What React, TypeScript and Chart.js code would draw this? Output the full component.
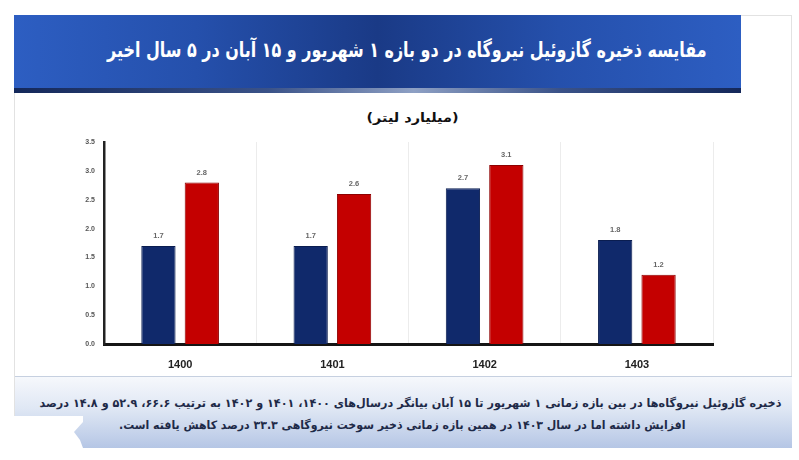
import React, { useEffect, useLayoutEffect, useRef, useState } from "react";
import { Chart, registerables } from "chart.js";

Chart.register(...registerables);

const categories = ["1400", "1401", "1402", "1403"];
const shahrivar = [1.7, 1.7, 2.7, 1.8];
const aban = [2.8, 2.6, 3.1, 1.2];
const yTicks = [0, 0.5, 1, 1.5, 2, 2.5, 3, 3.5];

const titleText =
  "مقایسه ذخیره گازوئیل نیروگاه در دو بازه ۱ شهریور و ۱۵ آبان در ۵ سال اخیر";
const unitText = "(میلیارد لیتر)";
const noteLine1 =
  "ذخیره گازوئیل نیروگاه‌ها در بین بازه زمانی ۱ شهریور تا ۱۵ آبان بیانگر درسال‌های ۱۴۰۰، ۱۴۰۱ و ۱۴۰۲ به ترتیب ۶۶.۶، ۵۲.۹ و ۱۴.۸ درصد";
const noteLine2 =
  "افزایش داشته اما در سال ۱۴۰۳ در همین بازه زمانی ذخیر سوخت نیروگاهی ۳۳.۳ درصد کاهش یافته است.";

const persianFont = '"DejaVu Sans", "Noto Sans", sans-serif';

const labelPlugin = {
  id: "barLabels",
  afterDatasetsDraw(chart: any) {
    const ctx = chart.ctx;
    ctx.save();
    ctx.font = "bold 7.5px 'Liberation Sans', sans-serif";
    ctx.fillStyle = "#666";
    ctx.textAlign = "center";
    ctx.textBaseline = "bottom";
    chart.data.datasets.forEach((ds: any, i: number) => {
      const meta = chart.getDatasetMeta(i);
      meta.data.forEach((bar: any, j: number) => {
        ctx.fillText(Number(ds.data[j]).toFixed(1), bar.x, bar.y - 6);
      });
    });
    ctx.restore();
  },
};

function FitText(props: {
  text: React.ReactNode;
  width: number;
  centerX: number;
  top: number;
  fontSize: number;
  color: string;
  lineHeight: number;
}) {
  const ref = useRef<HTMLSpanElement>(null);
  const [scale, setScale] = useState(1);
  useLayoutEffect(() => {
    if (ref.current) {
      const w = ref.current.offsetWidth;
      if (w > 0) setScale(props.width / w);
    }
  }, []);
  return (
    <div
      style={{
        position: "absolute",
        left: props.centerX - 500,
        top: props.top,
        width: 1000,
        textAlign: "center",
      }}
    >
      <span
        ref={ref}
        dir="rtl"
        style={{
          display: "inline-block",
          whiteSpace: "nowrap",
          fontFamily: persianFont,
          fontWeight: "bold",
          fontSize: props.fontSize,
          lineHeight: props.lineHeight + "px",
          color: props.color,
          transform: `scaleX(${scale})`,
          transformOrigin: "center",
        }}
      >
        {props.text}
      </span>
    </div>
  );
}

export default function App() {
  const ref = useRef<HTMLCanvasElement>(null);

  useEffect(() => {
    if (!ref.current) return;
    const chart = new Chart(ref.current, {
      type: "bar",
      data: {
        labels: categories,
        datasets: [
          {
            label: "۱ شهریور",
            data: shahrivar,
            backgroundColor: "#10296b",
            borderColor: "#0a1d50",
            borderWidth: 1,
            categoryPercentage: 0.57,
            barPercentage: 0.79,
          },
          {
            label: "۱۵ آبان",
            data: aban,
            backgroundColor: "#c40000",
            borderColor: "#8e0000",
            borderWidth: 1,
            categoryPercentage: 0.57,
            barPercentage: 0.79,
          },
        ],
      },
      options: {
        animation: false,
        responsive: false,
        maintainAspectRatio: false,
        layout: { padding: { left: 0, right: 86, top: 142, bottom: 0 } },
        plugins: {
          legend: { display: false },
          tooltip: { enabled: false },
          title: { display: false },
        },
        scales: {
          x: {
            grid: { display: true, color: "#ececec", lineWidth: 1, drawTicks: false },
            border: { display: true, color: "#151515", width: 3 },
            ticks: {
              color: "#222",
              padding: 14,
              font: { family: "'Liberation Sans', sans-serif", size: 11, weight: "bold" },
            },
            afterFit(scale: any) {
              scale.height = 116;
            },
          },
          y: {
            min: 0,
            max: 3.5,
            afterBuildTicks(scale: any) {
              scale.ticks = yTicks.map((v) => ({ value: v }));
            },
            grid: { display: false, drawTicks: false },
            border: { display: true, color: "#222", width: 2.5 },
            ticks: {
              color: "#555",
              padding: 9,
              font: { family: "'Liberation Sans', sans-serif", size: 7, weight: "bold" },
              callback: (v: any) => Number(v).toFixed(1),
            },
            afterFit(scale: any) {
              scale.width = 104;
            },
          },
        },
      },
      plugins: [labelPlugin],
    });
    return () => chart.destroy();
  }, []);

  return (
    <div
      style={{
        position: "absolute",
        left: 0,
        top: 0,
        width: 799,
        height: 460,
        background: "#fff",
        overflow: "hidden",
      }}
    >
      {/* panel border */}
      <div
        style={{
          position: "absolute",
          left: 14,
          top: 15,
          width: 778,
          height: 433,
          border: "1px solid #e2e2e2",
          boxSizing: "border-box",
        }}
      />
      {/* banner */}
      <div
        style={{
          position: "absolute",
          left: 14,
          top: 15,
          width: 727,
          height: 78,
          background:
            "linear-gradient(to right, #2d5ec2 0%, #2550ac 25%, #1a3a86 50%, #2550ac 75%, #2d5ec2 100%)",
        }}
      >
        <div
          style={{
            position: "absolute",
            left: 0,
            bottom: 0,
            width: "100%",
            height: 5,
            background:
              "linear-gradient(to right, #14285a 0%, #3a5288 35%, #8ea0c4 55%, #3a5288 75%, #14285a 100%)",
          }}
        />
      </div>
      <FitText
        text={titleText}
        width={600}
        centerX={407}
        top={36}
        fontSize={21}
        color="#ffffff"
        lineHeight={28}
      />
      {/* unit label */}
      <FitText
        text={unitText}
        width={92}
        centerX={412}
        top={108}
        fontSize={13}
        color="#111"
        lineHeight={18}
      />
      <canvas
        ref={ref}
        width={799}
        height={460}
        style={{ position: "absolute", left: 0, top: 0, width: 799, height: 460 }}
      />
      {/* bottom note box */}
      <div
        style={{
          position: "absolute",
          left: 15,
          top: 376,
          width: 777,
          height: 72,
          borderTop: "1px solid #c6d0e0",
          boxSizing: "border-box",
          background: "linear-gradient(to bottom, #f6f8fc 0%, #dfe7f4 45%, #b5c6e5 100%)",
        }}
      />
      <FitText
        text={noteLine1}
        width={742}
        centerX={410}
        top={393}
        fontSize={11.5}
        color="#1e2a48"
        lineHeight={20}
      />
      <FitText
        text={noteLine2}
        width={566}
        centerX={402}
        top={415}
        fontSize={11.5}
        color="#1e2a48"
        lineHeight={20}
      />
      {/* white notch at bottom-left */}
      <svg width={90} height={40} style={{ position: "absolute", left: 0, top: 414 }}>
        <polygon points="0,2 83,2 83,8 74,18 80,26 83,34 0,34" fill="#fff" />
      </svg>
    </div>
  );
}
